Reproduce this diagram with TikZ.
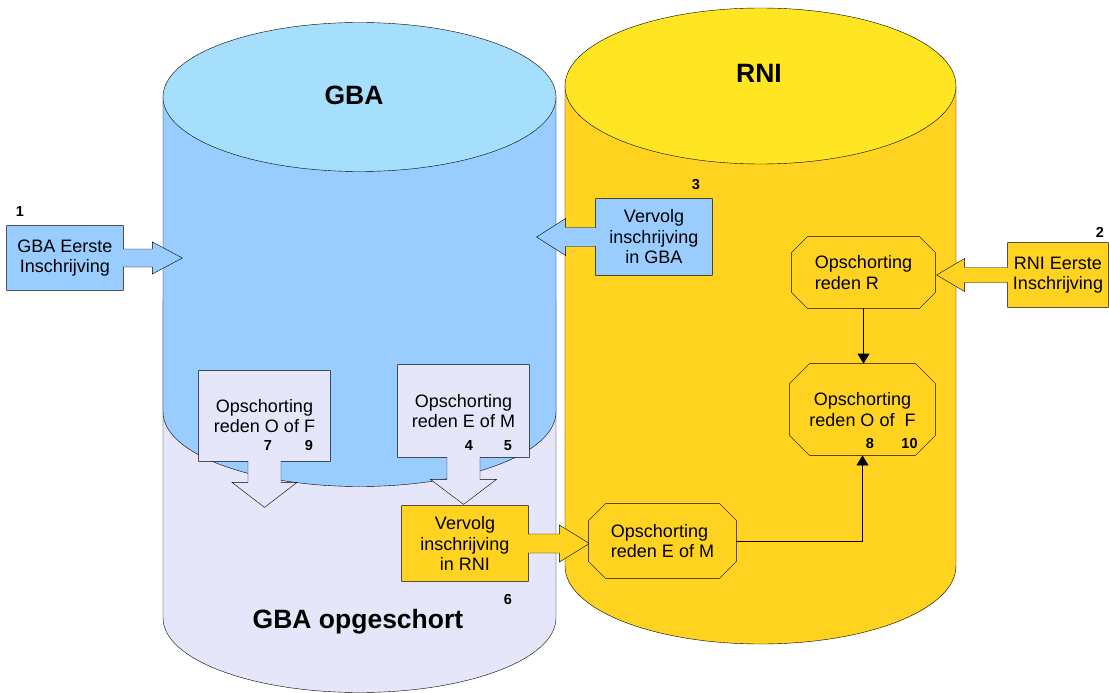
\documentclass[tikz,border=0pt]{standalone}
\usepackage{fontspec}
\setmainfont{Liberation Sans}
\usetikzlibrary{positioning,arrows.meta,backgrounds}

\definecolor{gbatop}{HTML}{A6DFFC}
\definecolor{gbabody}{HTML}{99CCFF}
\definecolor{opgeschort}{HTML}{E6E6FA}
\definecolor{rnitop}{HTML}{FFE522}
\definecolor{rnibody}{HTML}{FFD320}

\begin{document}
\begin{tikzpicture}[x=1pt, y=-1pt, line width=0.8pt,
txt/.style={font=\fontsize{18}{20.5}\selectfont, align=center, inner sep=0pt},
title/.style={font=\fontsize{26.5}{30}\selectfont\bfseries, anchor=base},
nr/.style={font=\fontsize{14.5}{16}\selectfont\bfseries, anchor=base},
callout/.style={draw, fill=#1},
link/.style={-{Triangle[length=10pt,width=12pt]}}]

\useasboundingbox (0,0) rectangle (1109,693);

% the three databases
\begin{scope}[on background layer]
\path[fill=opgeschort] (163,300) -- (163,618)
  arc[start angle=180, end angle=0, x radius=196.5, y radius=74.5] -- (556,300) -- cycle;
\draw (163,300) -- (163,618)
  arc[start angle=180, end angle=0, x radius=196.5, y radius=74.5] -- (556,300);
\draw[fill=gbabody] (163,97) -- (163,412)
  arc[start angle=180, end angle=0, x radius=196.5, y radius=74.5] -- (556,97) -- cycle;
\draw[fill=gbatop] (359.5,97) ellipse [x radius=196.5, y radius=74.5];
\draw[fill=rnibody] (565,86) -- (565,566)
  arc[start angle=180, end angle=0, x radius=195.5, y radius=78] -- (956,86) -- cycle;
\draw[fill=rnitop] (760.5,86) ellipse [x radius=195.5, y radius=78];
\end{scope}

\node[title] (gba) at (354,104) {GBA};
\node[title] (rni) at (759,82) {RNI};
\node[title] (opg) at (358,628) {GBA opgeschort};

% block arrows
\node[txt, minimum width=116pt, minimum height=64pt] (gbae) at (65,258) {GBA Eerste\\Inschrijving};
\node[txt, minimum width=116pt, minimum height=76pt] (vgba) at (654,237) {Vervolg\\inschrijving\\in GBA};
\node[txt, minimum width=100pt, minimum height=64pt] (rnie) at (1058,275) {RNI Eerste\\Inschrijving};
\node[txt, minimum width=126pt, minimum height=75pt] (vrni) at (465,543.5) {Vervolg\\inschrijving\\in RNI};
\node[txt, minimum width=131pt, minimum height=90pt] (oof) at (264.5,416) {Opschorting\\reden O of F};
\node[txt, minimum width=131pt, minimum height=92pt] (eom) at (463.5,411) {Opschorting\\reden E of M};

% RNI states
\node[txt, minimum width=143pt, minimum height=71pt, align=left] (redr) at (863.5,272.5) {Opschorting\\reden R};
\node[txt, minimum width=145pt, minimum height=91pt] (redof) at (862.5,409.5) {Opschorting\\reden O of\ \ F};
\node[txt, minimum width=147pt, minimum height=74pt, align=left] (redem) at (662.5,541) {Opschorting\\reden E of M};

\begin{scope}[on background layer]
\draw[callout=gbabody] (gbae.north west) -- (gbae.north east) -- ([yshift=9pt]gbae.east)
  -- ++(29,0) -- ++(0,-7) -- ++(30,16) -- ++(-30,16) -- ++(0,-7)
  -- ([yshift=-9pt]gbae.east) -- (gbae.south east) -- (gbae.south west) -- cycle;
\draw[callout=gbabody] (vgba.north east) -- (vgba.north west) -- ([yshift=9.5pt]vgba.west)
  -- ++(-30,0) -- ++(0,-9) -- ++(-29,18.5) -- ++(29,18.5) -- ++(0,-9)
  -- ([yshift=-9.5pt]vgba.west) -- (vgba.south west) -- (vgba.south east) -- cycle;
\draw[callout=rnibody] (rnie.north east) -- (rnie.north west) -- ([yshift=7.5pt]rnie.west)
  -- ++(-43,0) -- ++(0,-9) -- ++(-28,16.5) -- ++(28,16.5) -- ++(0,-9)
  -- ([yshift=-7.5pt]rnie.west) -- (rnie.south west) -- (rnie.south east) -- cycle;
\draw[callout=rnibody] (vrni.north west) -- (vrni.north east) -- ([yshift=9.5pt]vrni.east)
  -- ++(31,0) -- ++(0,-9) -- ++(30,18.5) -- ++(-30,18.5) -- ++(0,-9)
  -- ([yshift=-9.5pt]vrni.east) -- (vrni.south east) -- (vrni.south west) -- cycle;
\draw[callout=opgeschort] (oof.south west) -- (oof.north west) -- (oof.north east)
  -- (oof.south east) -- ([xshift=16.5pt]oof.south) -- ++(0,21) -- ++(16,0)
  -- ++(-32.5,25) -- ++(-32.5,-25) -- ++(16,0) -- ++(0,-21) -- cycle;
\draw[callout=opgeschort] (eom.south west) -- (eom.north west) -- (eom.north east)
  -- (eom.south east) -- ([xshift=16.5pt]eom.south) -- ++(0,22) -- ++(16.5,0)
  -- ++(-33,25) -- ++(-33,-25) -- ++(16.5,0) -- ++(0,-22) -- cycle;
% octagons round the RNI states
\foreach \n/\c in {redr/16, redof/20, redem/17}
\draw[fill=rnibody] ([xshift=\c]\n.north west) -- ([xshift=-\c]\n.north east)
  -- ([yshift=-\c]\n.north east) -- ([yshift=\c]\n.south east)
  -- ([xshift=-\c]\n.south east) -- ([xshift=\c]\n.south west)
  -- ([yshift=\c]\n.south west) -- ([yshift=-\c]\n.north west) -- cycle;
\end{scope}

\draw[link] (redr.south) -- (redr.south |- redof.north);
\draw[link] (redem.east) -| (redof.south);

% step numbers
\node[nr] (n1) at (20,216) {1};
\node[nr] (n2) at (1100,237) {2};
\node[nr] (n3) at (696,189) {3};
\node[nr] (n4) at (469,450) {4};
\node[nr] (n5) at (508,450) {5};
\node[nr] (n6) at (508,604) {6};
\node[nr] (n7) at (268,450) {7};
\node[nr] (n8) at (870,448) {8};
\node[nr] (n9) at (309,450) {9};
\node[nr] (n10) at (909.5,448) {10};
\end{tikzpicture}
\end{document}
